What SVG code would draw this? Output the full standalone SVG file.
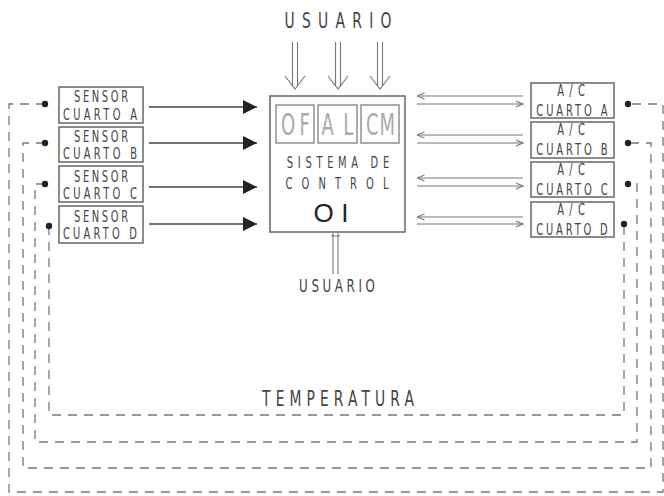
<svg xmlns="http://www.w3.org/2000/svg" width="664" height="496" viewBox="0 0 664 496">
<defs>
<style>
.t{font-family:"DejaVu Sans","Liberation Sans",sans-serif;fill:#444;text-anchor:middle}
.g{fill:#aaa}
.box{fill:#fff;stroke:#666;stroke-width:1.5}
.ibox{fill:#fff;stroke:#888;stroke-width:1.4}
.dash{fill:none;stroke:#777;stroke-width:1.3;stroke-dasharray:9 7}
.ln{fill:none;stroke:#444;stroke-width:1.3}
.thin{fill:none;stroke:#777;stroke-width:1.1}
.dot{fill:#222}
</style>
<marker id="tri" viewBox="0 0 14 14" refX="14" refY="7" markerWidth="14" markerHeight="14" markerUnits="userSpaceOnUse" orient="auto">
<path d="M0,0 L14,7 L0,14 Z" fill="#222"/>
</marker>
<marker id="open" viewBox="0 0 8 8" refX="7.5" refY="4" markerWidth="8" markerHeight="8" markerUnits="userSpaceOnUse" orient="auto">
<path d="M0,1 L7.5,4 L0,7" fill="none" stroke="#777" stroke-width="1.1"/>
</marker>
</defs>
<rect width="664" height="496" fill="#fff"/>

<g id="connectors">
<g class="thin">
<path d="M292.5,42 V86 M297.5,42 V86 M285,76 L295,89 L305,76"/>
<path d="M335.5,42 V86 M340.5,42 V86 M328,76 L338,89 L348,76"/>
<path d="M377.5,42 V86 M382.5,42 V86 M370,76 L380,89 L390,76"/>
<path d="M333,233 V274 M338,233 V274 M331,236 H340"/>
</g>
<g class="ln" marker-end="url(#tri)">
<path d="M149,107 H257"/>
<path d="M149,143 H257"/>
<path d="M149,187 H257"/>
<path d="M149,224 H257"/>
</g>
<g class="thin" marker-end="url(#open)">
<path d="M523,96 H417"/>
<path d="M417,104 H523"/>
<path d="M523,135 H417"/>
<path d="M417,143 H523"/>
<path d="M523,178 H417"/>
<path d="M417,186 H523"/>
<path d="M523,217 H417"/>
<path d="M417,224 H523"/>
</g>
<path class="dash" d="M45,104 H9 V492 H663 V104 H628"/>
<path class="dash" d="M45,143 H23 V468 H651 V143 H628"/>
<path class="dash" d="M45,184 H35 V442 H637 V184 H628"/>
<path class="dash" d="M49,226 V415 H624 V224"/>
<g class="dot">
<circle cx="45" cy="104" r="3.2"/>
<circle cx="45" cy="143" r="3.2"/>
<circle cx="45" cy="184" r="3.2"/>
<circle cx="49" cy="226" r="3.2"/>
<circle cx="628" cy="104" r="3.2"/>
<circle cx="628" cy="143" r="3.2"/>
<circle cx="628" cy="184" r="3.2"/>
<circle cx="624" cy="224" r="3.2"/>
</g>
</g>

<g id="usuario-top"><text class="t" transform="translate(338 28) scale(0.66 1)" font-size="21" textLength="162">USUARIO</text></g>
<g id="usuario-bottom"><text class="t" transform="translate(337 292) scale(0.66 1)" font-size="18" textLength="115">USUARIO</text></g>
<g id="temperatura"><text class="t" transform="translate(338 406) scale(0.66 1)" font-size="21" textLength="230">TEMPERATURA</text></g>

<g id="sensor-a"><rect class="box" x="59" y="87" width="84" height="36"/>
<text class="t" transform="translate(101 102) scale(0.66 1)" font-size="15" textLength="82">SENSOR</text>
<text class="t" transform="translate(100 119.5) scale(0.66 1)" font-size="15" textLength="112">CUARTO A</text></g>
<g id="sensor-b"><rect class="box" x="59" y="127" width="84" height="35"/>
<text class="t" transform="translate(101 141.5) scale(0.66 1)" font-size="15" textLength="82">SENSOR</text>
<text class="t" transform="translate(100 158.5) scale(0.66 1)" font-size="15" textLength="112">CUARTO B</text></g>
<g id="sensor-c"><rect class="box" x="59" y="166" width="84" height="36"/>
<text class="t" transform="translate(101 181.5) scale(0.66 1)" font-size="15" textLength="82">SENSOR</text>
<text class="t" transform="translate(100 198.5) scale(0.66 1)" font-size="15" textLength="112">CUARTO C</text></g>
<g id="sensor-d"><rect class="box" x="59" y="206" width="84" height="37"/>
<text class="t" transform="translate(101 221.5) scale(0.66 1)" font-size="15" textLength="82">SENSOR</text>
<text class="t" transform="translate(100 239) scale(0.66 1)" font-size="15" textLength="112">CUARTO D</text></g>

<g id="control"><rect class="box" x="270" y="96" width="135" height="136"/>
<rect class="ibox" x="276" y="105" width="38" height="38"/>
<rect class="ibox" x="318" y="105" width="39" height="38"/>
<rect class="ibox" x="361" y="105" width="38" height="38"/>
<text class="t g" transform="translate(295.5 135) scale(0.6 1)" font-size="30" textLength="48">OF</text>
<text class="t g" transform="translate(337.5 135) scale(0.6 1)" font-size="30" textLength="53">AL</text>
<text class="t g" transform="translate(380.5 135) scale(0.6 1)" font-size="30" textLength="48">CM</text>
<text class="t" transform="translate(338 167.5) scale(0.66 1)" font-size="15" textLength="155">SISTEMA DE</text>
<text class="t" transform="translate(337 188.5) scale(0.66 1)" font-size="15" textLength="156">CONTROL</text>
<text class="t" x="331" y="222" font-size="26" textLength="35" style="fill:#222;font-family:'Liberation Sans',sans-serif">OI</text>
</g>

<g id="ac-a"><rect class="box" x="531" y="83" width="83" height="35"/>
<text class="t" transform="translate(571 96) scale(0.66 1)" font-size="15" textLength="42">A/C</text>
<text class="t" transform="translate(572 115.5) scale(0.66 1)" font-size="15" textLength="108">CUARTO A</text></g>
<g id="ac-b"><rect class="box" x="531" y="122" width="83" height="36"/>
<text class="t" transform="translate(571 135) scale(0.66 1)" font-size="15" textLength="42">A/C</text>
<text class="t" transform="translate(572 154.5) scale(0.66 1)" font-size="15" textLength="108">CUARTO B</text></g>
<g id="ac-c"><rect class="box" x="531" y="162" width="83" height="35"/>
<text class="t" transform="translate(571 175) scale(0.66 1)" font-size="15" textLength="42">A/C</text>
<text class="t" transform="translate(572 194.5) scale(0.66 1)" font-size="15" textLength="108">CUARTO C</text></g>
<g id="ac-d"><rect class="box" x="531" y="202" width="83" height="35"/>
<text class="t" transform="translate(571 215) scale(0.66 1)" font-size="15" textLength="42">A/C</text>
<text class="t" transform="translate(572 234.5) scale(0.66 1)" font-size="15" textLength="108">CUARTO D</text></g>
</svg>
